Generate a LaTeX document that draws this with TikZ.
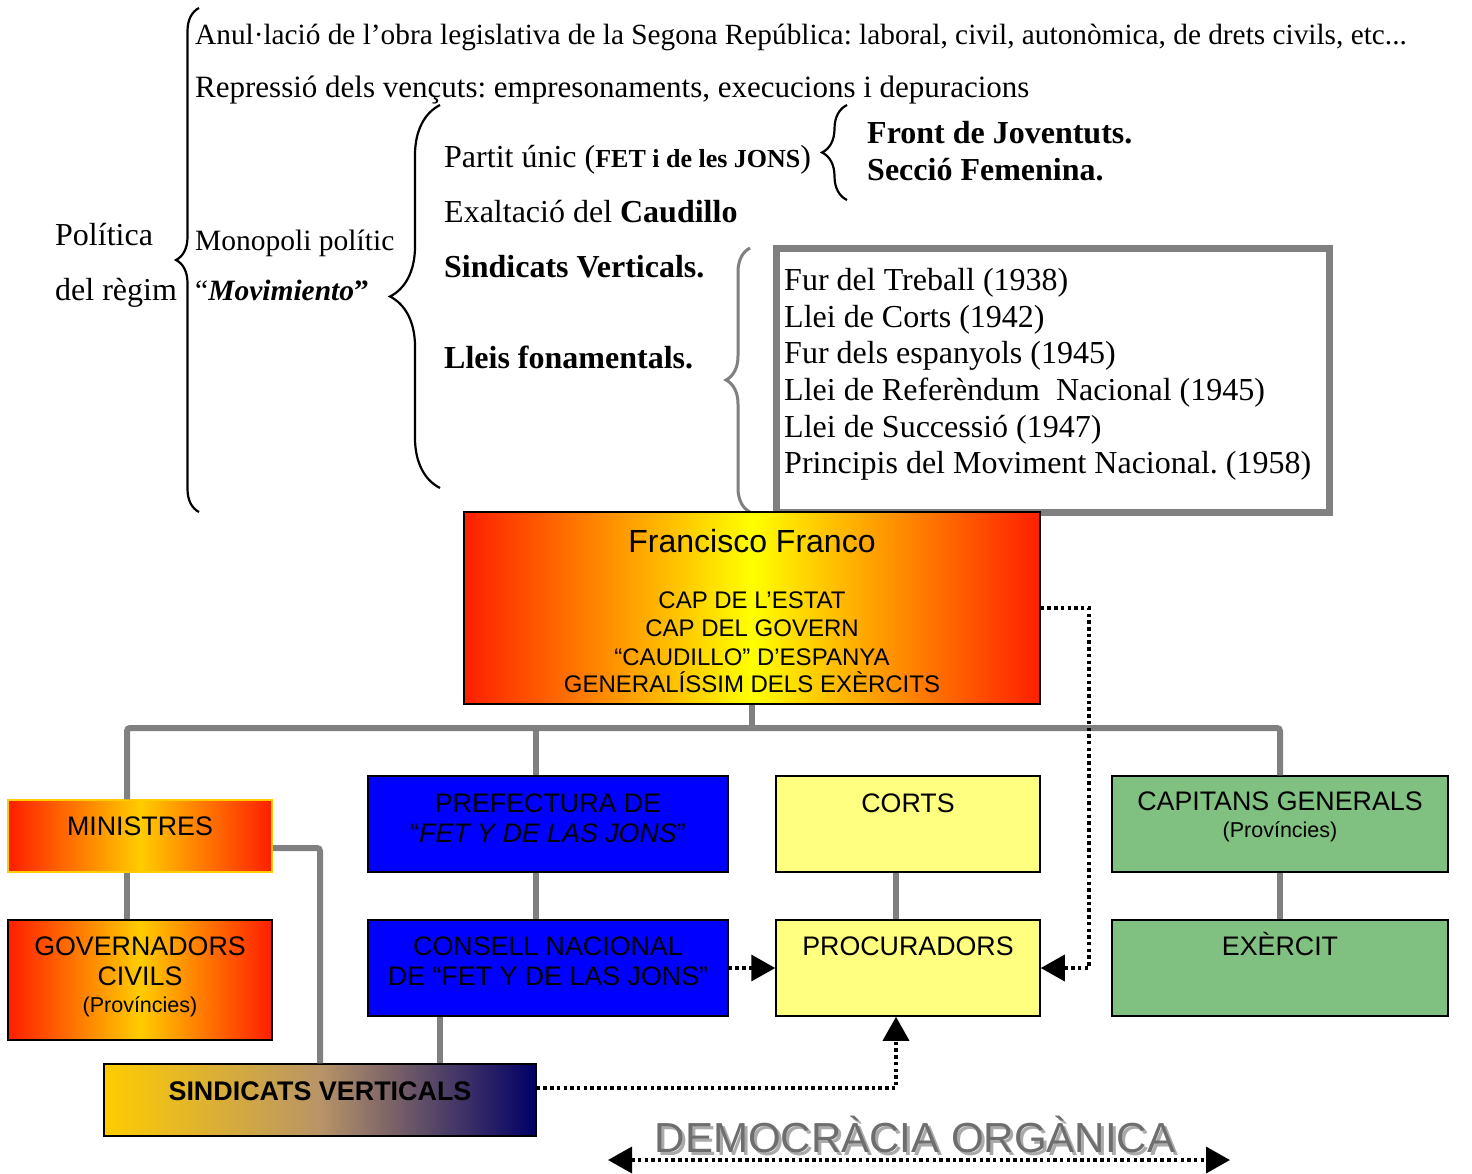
\documentclass[tikz,border=0pt]{standalone}
\usepackage{fontspec}
\setmainfont{Liberation Serif}
\newfontfamily\arialf{Liberation Sans}
\usetikzlibrary{arrows.meta,decorations.pathreplacing}
\definecolor{cgray}{HTML}{808080}
\definecolor{fred}{HTML}{FF1E00}
\definecolor{fyel}{HTML}{FFFF00}
\definecolor{gold}{HTML}{FFCC00}
\definecolor{fblue}{HTML}{0000FF}
\definecolor{lyel}{HTML}{FFFF80}
\definecolor{lgreen}{HTML}{80C080}
\definecolor{navyb}{HTML}{000066}
\definecolor{tanmid}{HTML}{B89468}
\definecolor{demo}{HTML}{6E6E6E}
\definecolor{demosh}{HTML}{AAAAAA}
\frenchspacing
\begin{document}
\begin{tikzpicture}[x=1pt,y=-1pt,
  tx/.style={inner sep=0pt, anchor=base west, font=\fontsize{32}{36}\selectfont},
  txs/.style={inner sep=0pt, anchor=base west, font=\fontsize{29.5}{34}\selectfont},
  sf/.style={inner sep=0pt, anchor=base, font=\arialf\fontsize{26.8}{30}\selectfont},
  sfsmall/.style={inner sep=0pt, anchor=base, font=\arialf\fontsize{21.5}{24}\selectfont},
  sfcap/.style={inner sep=0pt, anchor=base, font=\arialf\fontsize{24}{28}\selectfont},
  orgbox/.style={draw=black, line width=1.5pt, inner sep=0pt, rectangle},
  brc/.style={draw=black, line width=2.2pt, decorate},
  conn/.style={draw=cgray, line width=6pt},
  dotl/.style={draw=black, line width=3.5pt, dash pattern=on 3.5pt off 3.2pt},
  tip/.tip={Triangle[length=24pt,width=26pt]}
]
\useasboundingbox (0,0) rectangle (1472,1173);

% ---------- top text ----------
\node[txs, font=\fontsize{29.3}{34}\selectfont] (t1) at (195,44) {Anul·lació de l’obra legislativa de la Segona República: laboral, civil, autonòmica, de drets civils, etc...};
\node[txs, font=\fontsize{31}{34}\selectfont] (t2) at (195,97) {Repressió dels vençuts: empresonaments, execucions i depuracions};
\node[tx] (pol1) at (55,245) {Política};
\node[tx] (pol2) at (55,300) {del règim};
\node[txs] (mon1) at (195,250) {Monopoli polític};
\node[txs] (mon2) at (195,300) {“\textbf{\textit{Movimiento}}\textbf{”}};
\node[tx] (par) at (444,167) {Partit únic ({\fontsize{26}{30}\selectfont\bfseries FET i de les JONS})};
\node[tx] (exa) at (444,222) {Exaltació del \textbf{Caudillo}};
\node[tx] (sinv) at (444,277) {\textbf{Sindicats Verticals.}};
\node[tx] (lle) at (444,368) {\textbf{Lleis fonamentals.}};
\node[tx] (fro) at (867,143) {\textbf{Front de Joventuts.}};
\node[tx] (sec) at (867,180) {\textbf{Secció Femenina.}};

% braces
\draw[brc, decoration={brace, amplitude=23pt}] (199,512) -- (199,8);
\draw[brc, decoration={brace, amplitude=50pt}] (440,488) -- (440,105);
\draw[brc, decoration={brace, amplitude=25pt}] (847,200) -- (847,105);
\draw[brc, draw=cgray, line width=3pt, decoration={brace, amplitude=24pt}] (750,512) -- (750,248);

% laws box
\node[draw=cgray, line width=7pt, inner sep=0pt, minimum width=553pt, minimum height=264pt] (lawbox) at (1052.5,380) {};
\node[tx] (l1) at (784,290) {Fur del Treball (1938)};
\node[tx] (l2) at (784,327) {Llei de Corts (1942)};
\node[tx] (l3) at (784,363) {Fur dels espanyols (1945)};
\node[tx] (l4) at (784,400) {Llei de Referèndum~ Nacional (1945)};
\node[tx] (l5) at (784,437) {Llei de Successió (1947)};
\node[tx] (l6) at (784,473) {Principis del Moviment Nacional. (1958)};

% ---------- org chart boxes ----------
\node[orgbox, minimum width=576pt, minimum height=192pt, left color=fred, right color=fred, middle color=fyel] (franco) at (752,608) {};
\node[sf, font=\arialf\fontsize{32}{36}\selectfont] (ff) at (752,552) {Francisco Franco};
\node[sfcap] (fa) at (752,608) {CAP DE L’ESTAT};
\node[sfcap] (fb) at (752,636) {CAP DEL GOVERN};
\node[sfcap] (fc) at (752,665) {“CAUDILLO” D’ESPANYA};
\node[sfcap] (fd) at (752,692) {GENERALÍSSIM DELS EXÈRCITS};

\node[orgbox, draw=gold, minimum width=264pt, minimum height=72pt, left color=fred, right color=fred, middle color=gold] (ministres) at (140,836) {};
\node[sf] (mt) at (140,835) {MINISTRES};
\node[orgbox, minimum width=264pt, minimum height=120pt, left color=fred, right color=fred, middle color=gold] (governadors) at (140,980) {};
\node[sf] (gt1) at (140,955) {GOVERNADORS};
\node[sf] (gt2) at (140,985) {CIVILS};
\node[sfsmall] (gt3) at (140,1012) {(Províncies)};

\node[orgbox, fill=fblue, minimum width=360pt, minimum height=96pt] (prefectura) at (548,824) {};
\node[sf] (pt1) at (548,812) {PREFECTURA DE};
\node[sf] (pt2) at (548,842) {“\textit{FET Y DE LAS JONS}”};
\node[orgbox, fill=fblue, minimum width=360pt, minimum height=96pt] (consell) at (548,968) {};
\node[sf] (ct1) at (548,955) {CONSELL NACIONAL};
\node[sf] (ct2) at (548,985) {DE “FET Y DE LAS JONS”};

\node[orgbox, fill=lyel, minimum width=264pt, minimum height=96pt] (corts) at (908,824) {};
\node[sf] (cot) at (908,812) {CORTS};
\node[orgbox, fill=lyel, minimum width=264pt, minimum height=96pt] (procuradors) at (908,968) {};
\node[sf] (prt) at (908,955) {PROCURADORS};

\node[orgbox, fill=lgreen, minimum width=336pt, minimum height=96pt] (capitans) at (1280,824) {};
\node[sf] (cgt1) at (1280,810) {CAPITANS GENERALS};
\node[sfsmall] (cgt2) at (1280,837) {(Províncies)};
\node[orgbox, fill=lgreen, minimum width=336pt, minimum height=96pt] (exercit) at (1280,968) {};
\node[sf] (ext) at (1280,955) {EXÈRCIT};

\node[orgbox, minimum width=432pt, minimum height=72pt, left color=gold, right color=navyb, middle color=tanmid] (sindicats) at (320,1100) {};
\node[sf, font=\arialf\bfseries\fontsize{26.9}{30}\selectfont] (st) at (320,1100) {SINDICATS VERTICALS};

% ---------- gray connectors ----------
\coordinate (bus) at (0,728);
\draw[conn, rounded corners=3pt] ([xshift=-13pt]ministres.north) |- (bus -| capitans.north) -- (capitans.north);
\draw[conn] (franco.south) -- (franco.south |- bus);
\draw[conn] ([xshift=-12pt]prefectura.north) -- ([xshift=-12pt]prefectura.north |- bus);
\draw[conn] ([xshift=-12pt]prefectura.south) -- ([xshift=-12pt]consell.north);
\draw[conn] ([xshift=-13pt]ministres.south) -- ([xshift=-13pt]governadors.north);
\draw[conn, rounded corners=3pt] ([yshift=-12pt]ministres.east) -| (sindicats.north);
\draw[conn] ([xshift=-108pt]consell.south) -- ([xshift=-108pt]consell.south |- sindicats.north);
\draw[conn] ([xshift=-12pt]corts.south) -- ([xshift=-12pt]procuradors.north);
\draw[conn] (capitans.south) -- (exercit.north);

% ---------- dotted arrows ----------
\draw[dotl, -tip] (consell.east) -- (procuradors.west);
\coordinate (fr) at ([xshift=48pt]procuradors.east);
\draw[dotl, -tip] (franco.east) -| (fr) -- (procuradors.east);
\draw[dotl, -tip] ([yshift=12pt]sindicats.east) -| ([xshift=-12pt]procuradors.south);

% ---------- democracia organica ----------
\node[inner sep=0pt, anchor=base, font=\arialf\fontsize{42}{46}\selectfont] (dem) at (915,1152)
  {\rlap{\raisebox{-3pt}{\hspace{3pt}\textcolor{demosh}{DEMOCRÀCIA ORGÀNICA}}}\textcolor{demo}{DEMOCRÀCIA ORGÀNICA}};
\coordinate (dl) at (608,1160);
\coordinate (dr) at (1230,1160);
\draw[dotl, tip-tip] (dl) -- (dr);
\end{tikzpicture}
\end{document}
